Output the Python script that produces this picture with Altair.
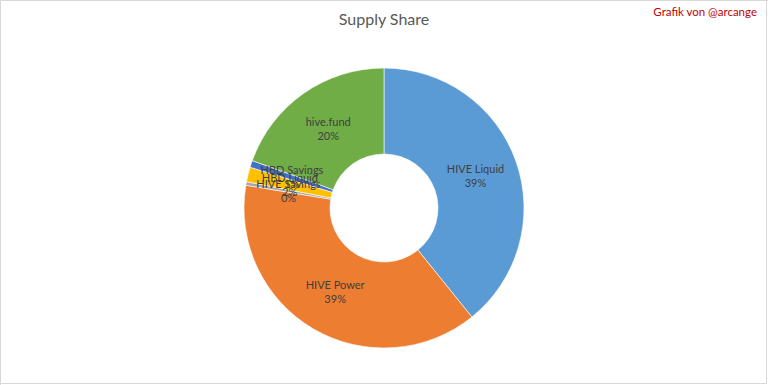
import altair as alt
import pandas as pd

categories = ["HIVE Liquid", "HIVE Power", "HIVE Savings", "HBD Liquid", "HBD Savings", "hive.fund"]
values = [39.2, 38.4, 0.4, 1.7, 0.8, 19.5]
pct_labels = ["39%", "39%", "0%", "2%", "1%", "20%"]
colors = ["#5B9BD5", "#ED7D31", "#A5A5A5", "#FFC000", "#4472C4", "#70AD47"]
title_text = "Supply Share"
credit_text = "Grafik von @arcange"

W, H = 768, 385
CX, CY = 384, 208

df = pd.DataFrame({
    "cat": categories,
    "value": values,
    "label": [f"{c}\n{p}" for c, p in zip(categories, pct_labels)],
    "idx": list(range(len(categories))),
})

base = alt.Chart(df).encode(
    theta=alt.Theta("value:Q", stack=True),
    order=alt.Order("idx:Q"),
)

arcs = base.mark_arc(
    x=CX, y=CY, outerRadius=140, innerRadius=54, stroke="white", strokeWidth=0.6
).encode(
    color=alt.Color("cat:N", scale=alt.Scale(domain=categories, range=colors), legend=None)
)

labels = base.mark_text(
    x=CX, y=CY, radius=97, dy=-6, font="Lato", fontSize=11, color="#404040",
    lineBreak="\n", align="center", baseline="middle", lineHeight=14
).encode(text="label:N")

tdf = pd.DataFrame({"t": [title_text], "c": [credit_text]})
title = alt.Chart(tdf).mark_text(
    font="Lato", fontSize=16, color="#595959", align="center", baseline="middle"
).encode(x=alt.value(CX), y=alt.value(20), text="t:N")
credit = alt.Chart(tdf).mark_text(
    font="Lato", fontSize=11.5, color="#C00000", align="right", baseline="middle"
).encode(x=alt.value(757), y=alt.value(13), text="c:N")
frame = alt.Chart(tdf).mark_rect(fill=None, stroke="#D9D9D9", strokeWidth=1).encode(
    x=alt.value(0.5), x2=alt.value(W - 1.5), y=alt.value(0.5), y2=alt.value(H - 1.5)
)

chart = alt.layer(frame, arcs, labels, title, credit).properties(
    width=W, height=H, padding=0, autosize=alt.AutoSizeParams(type="none")
).configure_view(stroke=None).configure(background="white")

chart.save("out.html", embed_options={"renderer": "svg", "actions": False})
